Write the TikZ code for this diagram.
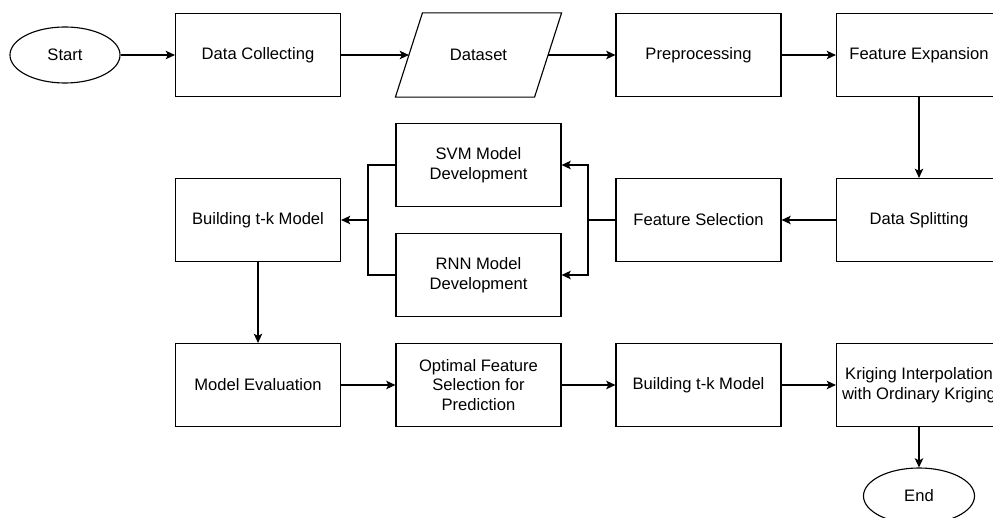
\documentclass[tikz,border=0pt]{standalone}
\usepackage{fontspec}
\setmainfont{Liberation Sans}
\usetikzlibrary{shapes.geometric,arrows.meta}
\begin{document}
\begin{tikzpicture}[x=0.025cm, y=-0.025cm, line width=0.8pt,
  every node/.style={font=\fontsize{11.8}{14}\selectfont, align=center},
  box/.style={draw, minimum width=4.125cm, minimum height=2.075cm, inner sep=0pt},
  term/.style={draw, ellipse, minimum width=2.75cm, minimum height=1.4cm, inner sep=0pt},
  flow/.style={-{Stealth[length=6.5pt,width=6pt,inset=1.5pt]}}]
\path[use as bounding box, clip] (0,0) rectangle (993,518);
% top row
\node[term] (start) at (65,55) {Start};
\node[box] (collect) at (258,55) {Data Collecting};
\node[box, draw=none, minimum width=3.45cm] (data) at (478.5,55) {Dataset};
\draw ([xshift=-0.3375cm]data.south west) -- ([xshift=-0.3375cm]data.south east)
  -- ([xshift=0.3375cm]data.north east) -- ([xshift=0.3375cm]data.north west) -- cycle;
\node[box] (prep) at (698.5,55) {Preprocessing};
\node[box] (expand) at (919,55) {Feature Expansion};
% middle row
\node[box] (split) at (919,220) {Data Splitting};
\node[box] (select) at (698.5,220) {Feature Selection};
\node[box] (svm) at (478.5,165) {SVM Model\\Development};
\node[box] (rnn) at (478.5,275) {RNN Model\\Development};
\node[box] (tk) at (258,220) {Building t-k Model};
\coordinate (jr) at (588,220);
\coordinate (jl) at (368,220);
% bottom row
\node[box] (eval) at (258,385) {Model Evaluation};
\node[box] (optim) at (478.5,385) {Optimal Feature\\Selection for\\Prediction};
\node[box] (tk2) at (698.5,385) {Building t-k Model};
\node[box] (krig) at (919,385) {Kriging Interpolation\\with Ordinary Kriging};
\node[term, minimum width=2.775cm] (end) at (919,496) {End};
% connectors
\draw[flow] (start) -- (collect);
\draw[flow] (collect) -- (data);
\draw[flow] (data) -- (prep);
\draw[flow] (prep) -- (expand);
\draw[flow] (expand) -- (split);
\draw[flow] (split) -- (select);
\draw (select.west) -- (jr);
\draw[flow] (jr) |- (svm.east);
\draw[flow] (jr) |- (rnn.east);
\draw (svm.west) -| (jl) |- (rnn.west);
\draw[flow] (jl) -- (tk.east);
\draw[flow] (tk) -- (eval);
\draw[flow] (eval) -- (optim);
\draw[flow] (optim) -- (tk2);
\draw[flow] (tk2) -- (krig);
\draw[flow] (krig) -- (end);
\end{tikzpicture}
\end{document}
